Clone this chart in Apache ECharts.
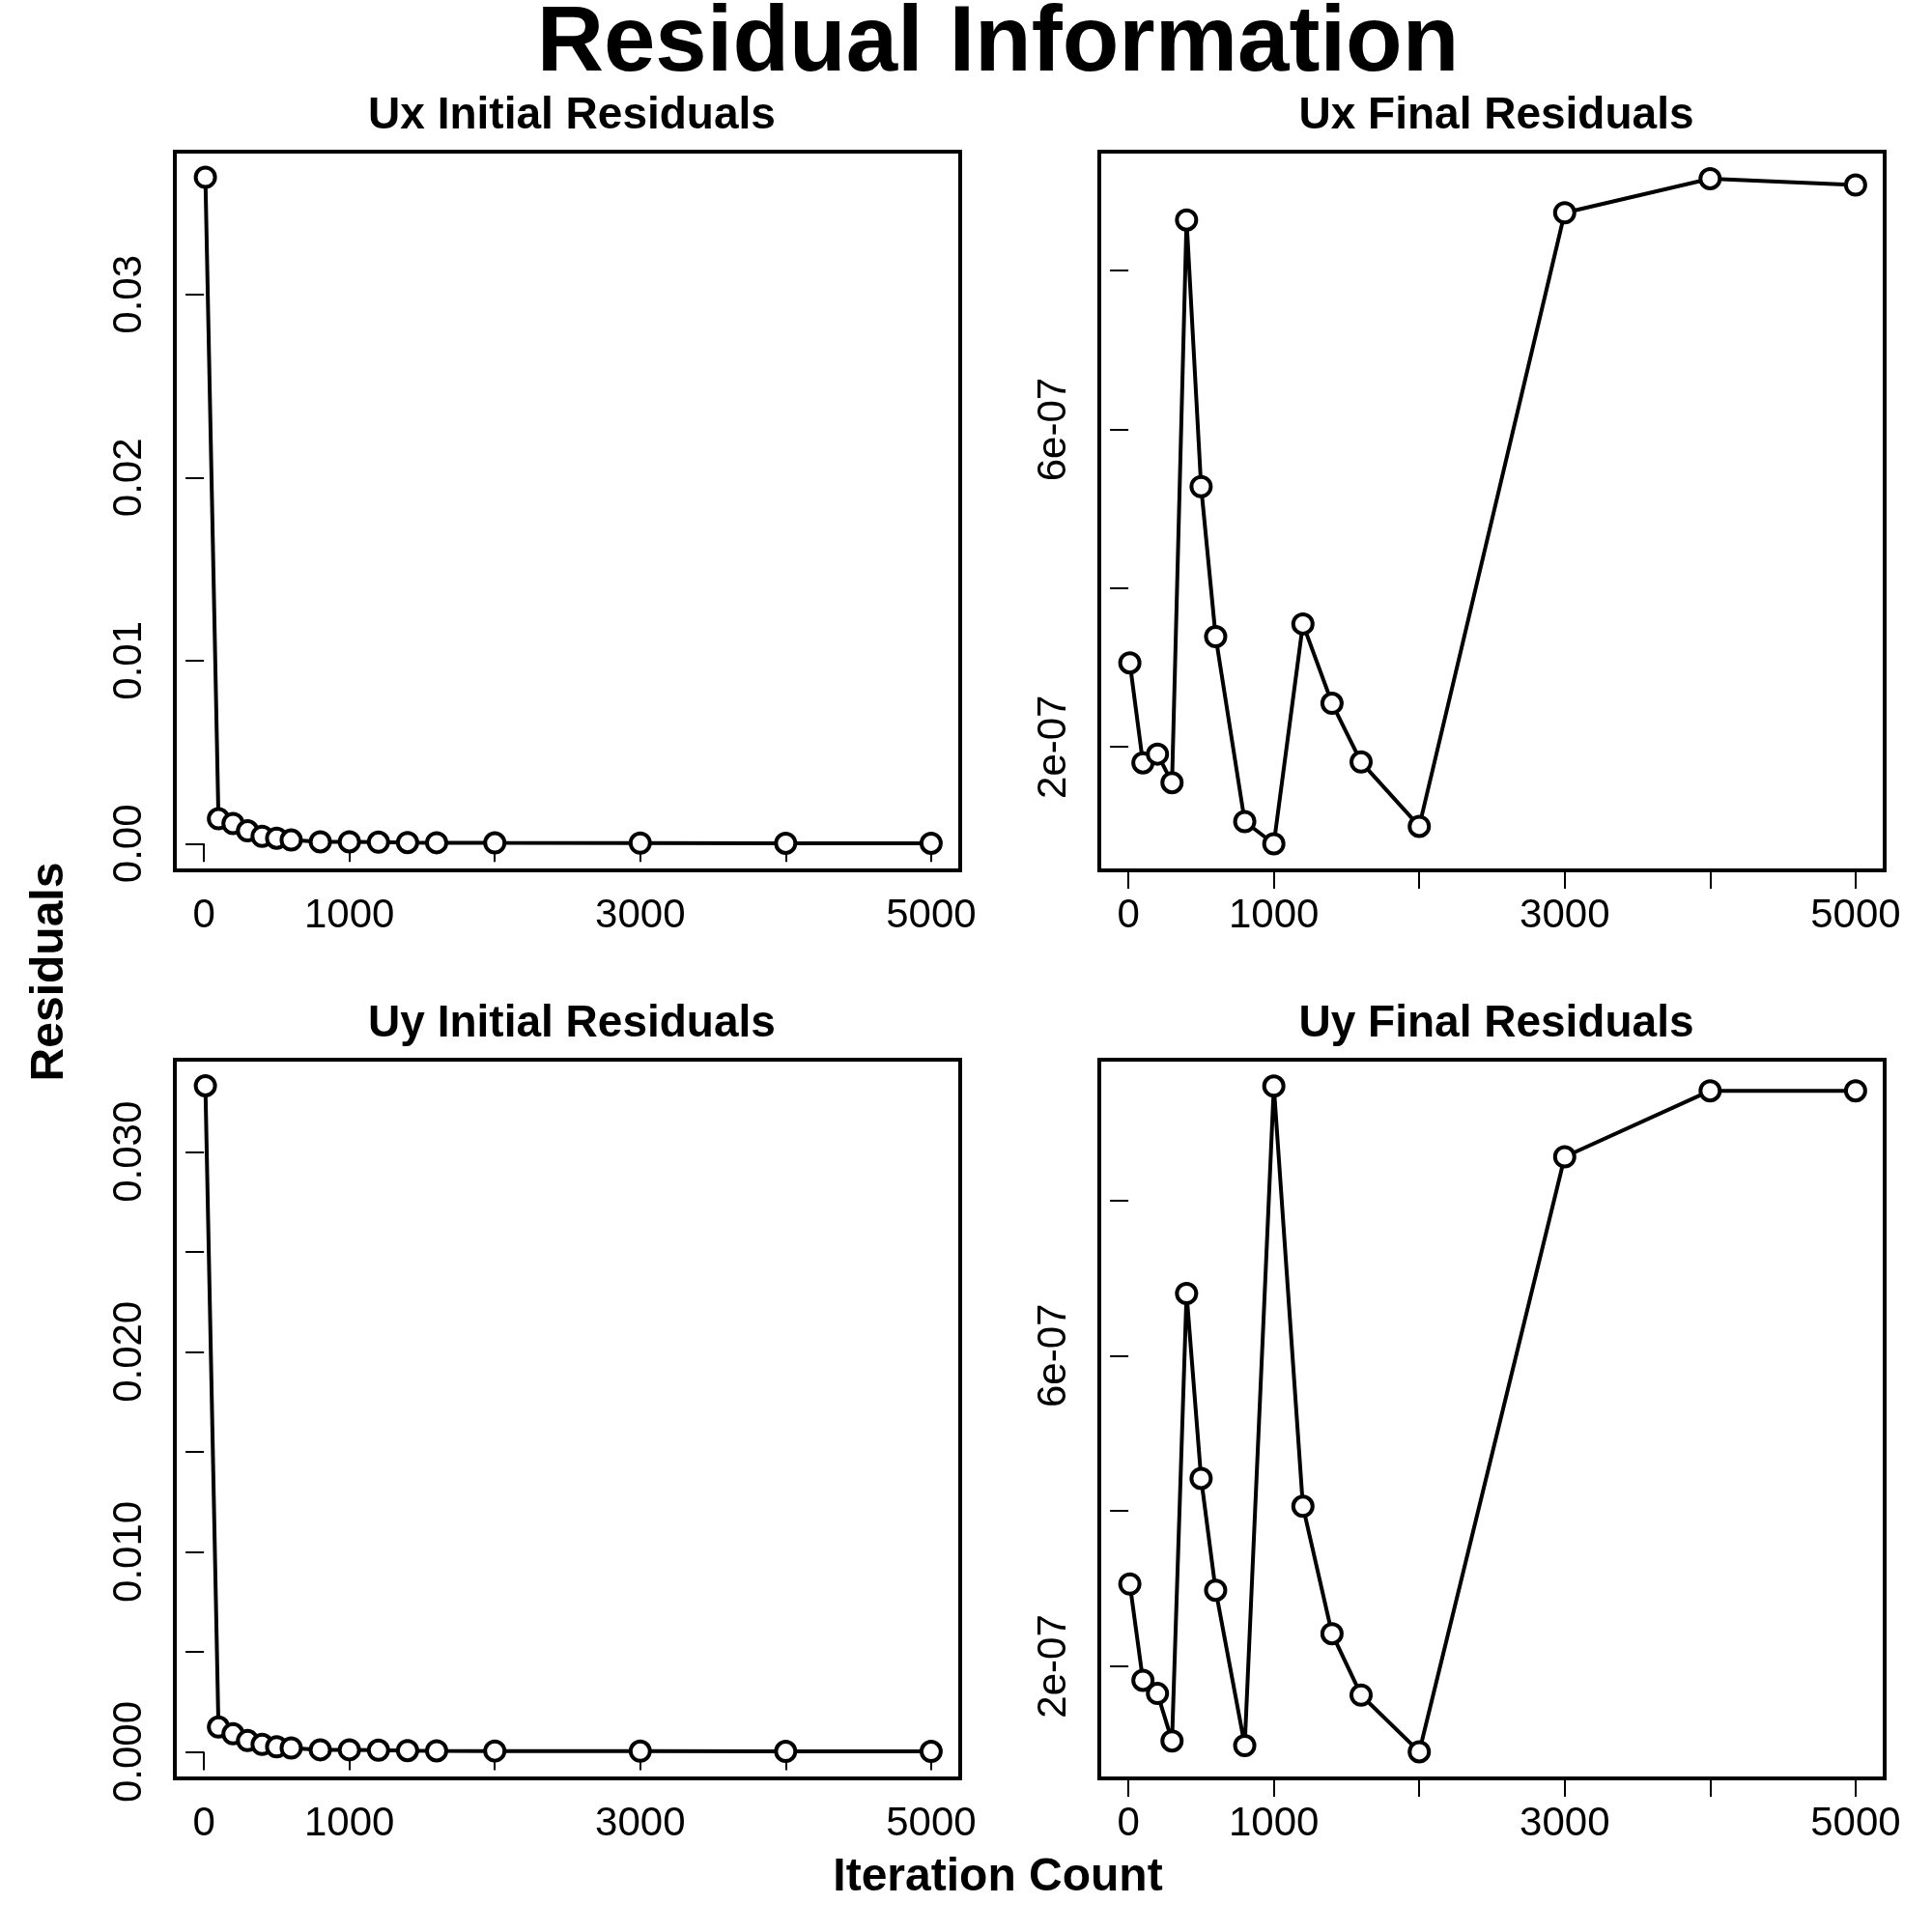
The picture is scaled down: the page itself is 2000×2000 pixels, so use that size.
<!DOCTYPE html>
<html><head><meta charset="utf-8">
<script src="https://cdn.jsdelivr.net/npm/echarts@6/dist/echarts.min.js"></script>
<style>html,body{margin:0;padding:0;background:#fff}#c{width:2000px;height:2000px}</style>
</head><body><div id="c"></div>
<script>
const iterations = [10,100,200,300,400,500,600,800,1000,1200,1400,1600,2000,3000,4000,5000];
const uxInitial = [0.0364,0.00136,0.0011,0.0007,0.0004,0.0003,0.0002,0.0001,0.0001,0.00008,0.00006,0.00005,0.00004,0.00003,0.00002,0.00002];
const uxFinal = [3.06e-7,1.80e-7,1.91e-7,1.55e-7,8.64e-7,5.28e-7,3.39e-7,1.06e-7,0.78e-7,3.55e-7,2.55e-7,1.81e-7,1.00e-7,8.73e-7,9.16e-7,9.08e-7];
const uyInitial = [0.0333,0.00124,0.0009,0.00056,0.00037,0.00025,0.00019,0.0001,0.0001,0.00008,0.00006,0.00005,0.00004,0.00003,0.00002,0.00002];
const uyFinal = [3.06e-7,1.82e-7,1.65e-7,1.04e-7,6.8e-7,4.42e-7,2.98e-7,0.98e-7,9.47e-7,4.06e-7,2.42e-7,1.63e-7,0.9e-7,8.56e-7,9.41e-7,9.41e-7];
const xTicks = [0,1000,2000,3000,4000,5000];
const xLabels = [0,1000,3000,5000];
const initTopTicks = [0,0.01,0.02,0.03];
const initBotTicks = [0,0.005,0.01,0.015,0.02,0.025,0.03];
const initBotLabels = [0,0.01,0.02,0.03];
const finalTicks = [2e-7,4e-7,6e-7,8e-7];
const finalLabels = [2e-7,6e-7];

const F = 'Liberation Sans, Arial, sans-serif';
const expFmt = v => { const m = v.toExponential(0).split('e'); const e = parseInt(m[1]); return m[0] + 'e' + (e<0?'-':'+') + String(Math.abs(e)).padStart(2,'0'); };
const grids = [
  {left:181, top:157, width:813, height:744},
  {left:1138, top:157, width:813, height:744},
  {left:181, top:1097, width:813, height:744},
  {left:1138, top:1097, width:813, height:744}
].map(g => Object.assign({show:true, borderColor:'#000', borderWidth:4, backgroundColor:'transparent'}, g));
const xAxes = [0,1,2,3].map(i => ({
  type:'value', gridIndex:i, min:-200, max:5200,
  axisLine:{show:false}, splitLine:{show:false},
  axisTick:{show:true, length:19, lineStyle:{color:'#000', width:2}, customValues:xTicks},
  axisLabel:{color:'#000', fontFamily:F, fontSize:42, margin:26, customValues:xLabels, formatter:v=>String(v)}
}));
function yAx(i, min, max, ticks, labels, fmt){
  return {type:'value', gridIndex:i, min:min, max:max,
    axisLine:{show:false}, splitLine:{show:false},
    axisTick:{show:true, length:19, lineStyle:{color:'#000', width:2}, customValues:ticks},
    axisLabel:{color:'#000', fontFamily:F, fontSize:42, margin:26, rotate:90, customValues:labels, formatter:fmt}};
}
const yAxes = [
  yAx(0, -0.00146, 0.0378, initTopTicks, initTopTicks, v=>v.toFixed(2)),
  yAx(1, 0.445e-7, 9.5e-7, finalTicks, finalLabels, expFmt),
  yAx(2, -0.00133, 0.0346, initBotTicks, initBotLabels, v=>v.toFixed(3)),
  yAx(3, 0.557e-7, 9.81e-7, finalTicks, finalLabels, expFmt)
];
const sets = [uxInitial, uxFinal, uyInitial, uyFinal];
const series = sets.map((d,i) => ({
  type:'line', xAxisIndex:i, yAxisIndex:i,
  data: iterations.map((x,k)=>[x,d[k]]),
  symbol:'circle', symbolSize:20, showSymbol:true,
  lineStyle:{color:'#000', width:4},
  itemStyle:{color:'#fff', borderColor:'#000', borderWidth:4},
  animation:false, z:3
}));
const sub = (text,x,y)=>({text, left:x, top:y, textAlign:'center', textStyle:{fontFamily:F, fontWeight:'bold', fontSize:46, color:'#000'}});
const chart = echarts.init(document.getElementById('c'));
chart.setOption({
  backgroundColor:'#fff', animation:false,
  title:[
    {text:'Residual Information', left:1028, top:-6, textAlign:'center', textStyle:{fontFamily:F, fontWeight:'bold', fontSize:96, color:'#000'}},
    sub('Ux Initial Residuals', 587, 92), sub('Ux Final Residuals', 1544, 92),
    sub('Uy Initial Residuals', 587, 1032), sub('Uy Final Residuals', 1544, 1032),
    {text:'Iteration Count', left:1028, top:1915, textAlign:'center', textStyle:{fontFamily:F, fontWeight:'bold', fontSize:48, color:'#000'}}
  ],
  graphic:[{type:'text', x:52, y:1006, rotation:Math.PI/2, style:{text:'Residuals', fontFamily:F, fontWeight:'bold', fontSize:48, fill:'#000', align:'center', verticalAlign:'middle'}}],
  grid:grids, xAxis:xAxes, yAxis:yAxes, series
});
</script></body></html>
